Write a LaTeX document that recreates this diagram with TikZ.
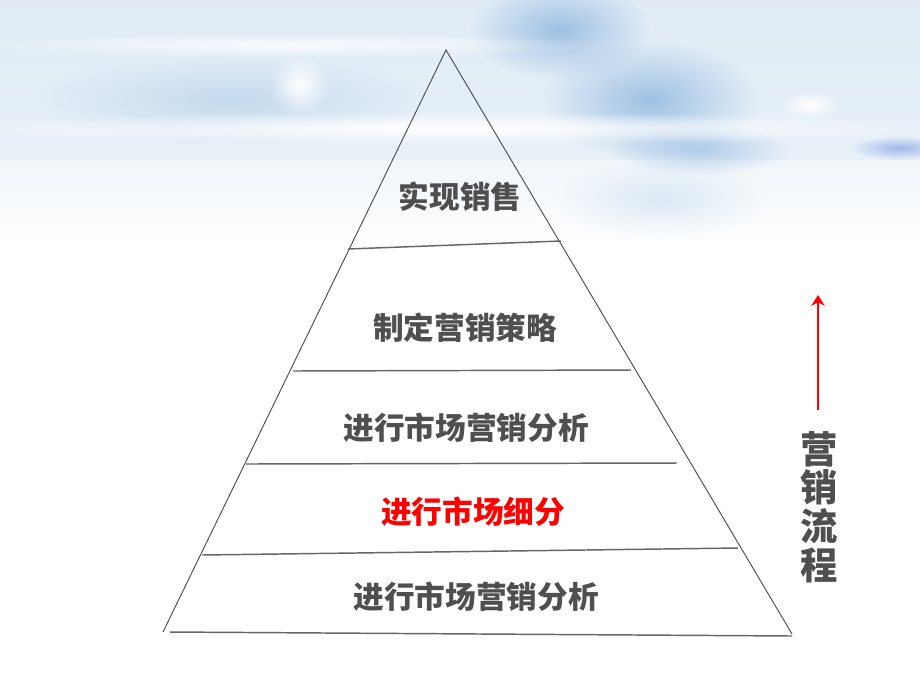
\documentclass[tikz,border=0pt]{standalone}
\usepackage{fontspec}
\newfontfamily\cjk{Noto Sans CJK SC}
\usetikzlibrary{arrows.meta, fadings}
\definecolor{txtgray}{HTML}{4F4F4F}
\definecolor{skyblue}{HTML}{C6DBEE}
\definecolor{deepsky}{HTML}{8DB6DE}
\tikzfading[name=softblob, inner color=transparent!0, outer color=transparent!100]

\begin{document}
\begin{tikzpicture}[x=0.75pt, y=-0.75pt,
    lbl/.style={font=\cjk\bfseries\fontsize{23}{27}\selectfont, text=txtgray},
    sideline/.style={draw=black!70, line width=0.7pt},
    sepline/.style={draw=black!60, line width=1.1pt},
    blob/.style={path fading=softblob}]
            \useasboundingbox (0,0) rectangle (920,690);
            
            % background
            \fill[white] (0,0) rectangle (920,690);
            \shade[top color=skyblue!55, bottom color=skyblue!40] (0,0) rectangle (920,160);
            \shade[top color=skyblue!25, bottom color=white] (0,160) rectangle (920,245);
            \fill[deepsky, blob, opacity=0.8] (560,30) ellipse [x radius=90, y radius=50];
            \fill[deepsky, blob, opacity=0.8] (650,100) ellipse [x radius=110, y radius=60];
            \fill[deepsky, blob, opacity=0.6] (700,150) ellipse [x radius=90, y radius=25];
            \fill[deepsky, blob, opacity=0.25] (660,200) ellipse [x radius=110, y radius=40];
            \fill[deepsky!70, blob, opacity=0.6] (230,100) ellipse [x radius=200, y radius=45];
            \fill[white, blob] (450,128) ellipse [x radius=520, y radius=16];
            \fill[white, blob, opacity=0.8] (290,45) ellipse [x radius=320, y radius=12];
            \fill[white, blob] (300,85) ellipse [x radius=30, y radius=30];
            \fill[white, blob] (810,105) ellipse [x radius=30, y radius=14];
            \fill[deepsky!80!blue, blob, opacity=0.6] (900,148) ellipse [x radius=50, y radius=12];
            
            % pyramid
            \coordinate (apex) at (446,50);
            \coordinate (baseleft) at (163,632);
            \coordinate (baseright) at (792,634);
            \draw[sideline] (baseleft) -- (apex) -- (baseright);
            \draw[sepline] (170,632) -- (792,636);
            
            \foreach \xa/\ya/\xb/\yb in {348/249/561/241, 293/371/631/370, 246/464/677/463, 202/555/738/548} {
                \draw[sepline] (\xa,\ya) -- (\xb,\yb);
            }
            
            \node[lbl] (sell) at (460,197) {实现销售};
            \node[lbl] (strategy) at (465,328) {制定营销策略};
            \node[lbl] (analysisup) at (466,428) {进行市场营销分析};
            \node[lbl, text=red] (segment) at (473,512) {进行市场细分};
            \node[lbl] (analysisdown) at (476,597) {进行市场营销分析};
            
            % flow arrow
            \coordinate (flowtail) at (818,410);
            \coordinate (flowhead) at (818,295);
            \draw[red, line width=2pt, -{Stealth[length=8pt, width=10pt, inset=2.5pt]}] (flowtail) -- (flowhead);
            \node[lbl, font=\cjk\bfseries\fontsize{28}{29}\selectfont, align=center] (flowname) at (819,507) {营\\销\\流\\程};
            
        \end{tikzpicture}
\end{document}
